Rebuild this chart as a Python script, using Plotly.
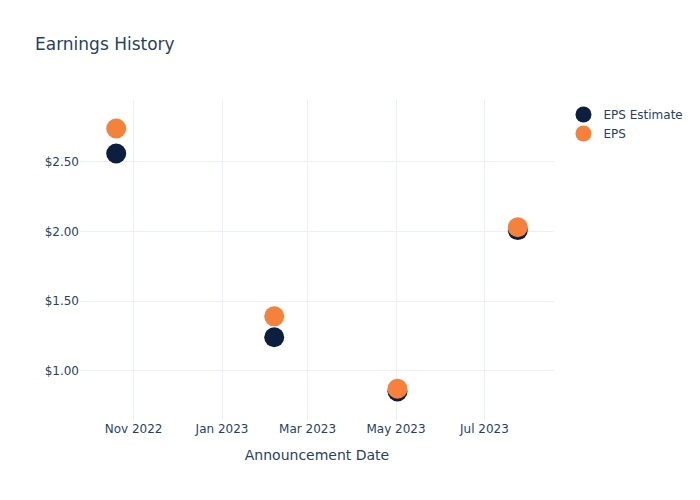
import plotly.graph_objects as go

dates = ["2022-10-20", "2023-02-06", "2023-05-02", "2023-07-24"]
eps_estimate = [2.56, 1.24, 0.85, 2.01]
eps_actual = [2.74, 1.39, 0.87, 2.03]

fig = go.Figure()
fig.add_trace(go.Scatter(x=dates, y=eps_estimate, mode="markers", name="EPS Estimate",
                         marker=dict(color="#0c1f3f", size=20)))
fig.add_trace(go.Scatter(x=dates, y=eps_actual, mode="markers", name="EPS",
                         marker=dict(color="#f5813a", size=20)))

fig.update_layout(
    template="plotly_white",
    width=700, height=500,
    font=dict(family="DejaVu Sans"),
    title=dict(text="Earnings History"),
    xaxis=dict(title=dict(text="Announcement Date")),
    yaxis=dict(tickprefix="$", tickformat=".2f"),
)

fig.write_html("out.html")
